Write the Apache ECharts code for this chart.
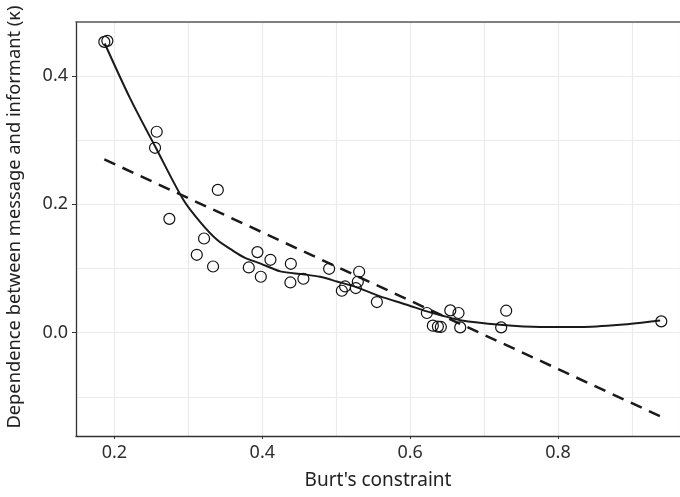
<!DOCTYPE html>
<html>
<head>
<meta charset="utf-8">
<script src="https://cdn.jsdelivr.net/npm/echarts@6/dist/echarts.min.js"></script>
<style>
html,body{margin:0;padding:0;background:#fff;}
#chart{width:680px;height:497px;}
</style>
</head>
<body>
<div id="chart"></div>
<script>
// Observed points (Burt's constraint vs. dependence kappa)
var ptX = [0.1863, 0.1904, 0.2572, 0.2549, 0.3398, 0.2743, 0.3212, 0.3114, 0.3334, 0.3934,
           0.3817, 0.4110, 0.3980, 0.4386, 0.4380, 0.4556, 0.4904, 0.5076, 0.5120, 0.5265,
           0.5292, 0.5310, 0.5550, 0.6226, 0.6307, 0.6375, 0.6415, 0.6543, 0.6654, 0.6677,
           0.7299, 0.7231, 0.9397];
var ptY = [0.4530, 0.4546, 0.3130, 0.2880, 0.2224, 0.1773, 0.1467, 0.1213, 0.1031, 0.1255,
           0.1016, 0.1135, 0.0871, 0.1073, 0.0782, 0.0840, 0.0995, 0.0653, 0.0720, 0.0695,
           0.0793, 0.0949, 0.0477, 0.0306, 0.0109, 0.0095, 0.0089, 0.0347, 0.0306, 0.0082,
           0.0342, 0.0082, 0.0176];

// Smooth (loess) fit
var loessX = [0.1869, 0.2212, 0.2560, 0.2932, 0.3158, 0.3388, 0.3605, 0.3767, 0.3970, 0.4244,
              0.4556, 0.4782, 0.5008, 0.5279, 0.5594, 0.5955, 0.6226, 0.6406, 0.6676, 0.7217,
              0.7758, 0.8299, 0.8841, 0.9382];
var loessY = [0.4505, 0.3650, 0.2880, 0.2070, 0.1726, 0.1446, 0.1275, 0.1166, 0.1080, 0.0955,
              0.0910, 0.0870, 0.0798, 0.0705, 0.0565, 0.0435, 0.0331, 0.0275, 0.0195, 0.0124,
              0.0089, 0.0089, 0.0124, 0.0191];

// Linear fit endpoints
var lmX = [0.1863, 0.9397];
var lmY = [0.2700, -0.1310];

// Axis ticks
var xTicks = [0.2, 0.4, 0.6, 0.8];
var yTicks = [0.0, 0.2, 0.4];
var xRange = [0.148, 0.965];
var yRange = [-0.161, 0.484];

var xTitle = "Burt's constraint";
var yTitle = "Dependence between message and informant (\u03ba)";

function zip(a, b) { return a.map(function (v, i) { return [v, b[i]]; }); }

var FONT = '"Noto Sans", "DejaVu Sans", sans-serif';
var chart = echarts.init(document.getElementById('chart'), null, {renderer: 'canvas'});

var option = {
  animation: false,
  backgroundColor: '#ffffff',
  grid: {left: 76, right: 0, top: 22, bottom: 61, containLabel: false, outerBoundsMode: 'none'},
  graphic: [
    {
      type: 'text', x: 15, y: 217, rotation: Math.PI / 2, silent: true,
      style: {text: yTitle, fill: '#222222', font: '18.3px ' + FONT,
              align: 'center', verticalAlign: 'middle'}
    }
  ],
  xAxis: [
    {
      type: 'value', min: xRange[0], max: xRange[1], position: 'bottom',
      axisLine: {show: true, onZero: false, lineStyle: {color: '#333333', width: 1.3}},
      axisTick: {show: true, length: 3, customValues: xTicks, lineStyle: {color: '#333333', width: 1}},
      axisLabel: {customValues: xTicks, color: '#2e2e2e', fontSize: 18, fontFamily: FONT, margin: 8,
                  formatter: function (v) { return v.toFixed(1); }},
      splitLine: {show: false},
      name: xTitle, nameLocation: 'middle', nameGap: 35,
      nameTextStyle: {color: '#222222', fontSize: 19, fontFamily: FONT}
    },
    {
      type: 'value', min: xRange[0], max: xRange[1], splitNumber: 8, position: 'top',
      axisLine: {show: true, onZero: false, lineStyle: {color: '#5a5a5a', width: 1.5}},
      axisTick: {show: false}, axisLabel: {show: false},
      splitLine: {show: true, lineStyle: {color: '#ebebeb', width: 1.2}}
    }
  ],
  yAxis: [
    {
      type: 'value', min: yRange[0], max: yRange[1], position: 'left',
      axisLine: {show: true, onZero: false, lineStyle: {color: '#333333', width: 1.3}},
      axisTick: {show: true, length: 4, customValues: yTicks, lineStyle: {color: '#333333', width: 1}},
      axisLabel: {customValues: yTicks, color: '#2e2e2e', fontSize: 18, fontFamily: FONT, margin: 8,
                  formatter: function (v) { return v.toFixed(1); }},
      splitLine: {show: false}
    },
    {
      type: 'value', min: yRange[0], max: yRange[1], splitNumber: 6, position: 'right',
      axisLine: {show: false}, axisTick: {show: false}, axisLabel: {show: false},
      splitLine: {show: true, lineStyle: {color: '#ebebeb', width: 1.2}}
    }
  ],
  series: [
    {
      type: 'line', xAxisIndex: 0, yAxisIndex: 0, data: zip(lmX, lmY),
      showSymbol: false, symbol: 'none', z: 3,
      lineStyle: {color: '#1a1a1a', width: 2.5, type: [12, 8]}
    },
    {
      type: 'line', xAxisIndex: 0, yAxisIndex: 0, data: zip(loessX, loessY),
      showSymbol: false, symbol: 'none', smooth: 0.3, z: 4,
      lineStyle: {color: '#1a1a1a', width: 2}
    },
    {
      type: 'scatter', xAxisIndex: 0, yAxisIndex: 0, data: zip(ptX, ptY),
      symbol: 'circle', symbolSize: 11, z: 5,
      itemStyle: {color: 'rgba(0,0,0,0)', borderColor: '#111111', borderWidth: 1.2, opacity: 1}
    }
  ]
};
chart.setOption(option);
</script>
</body>
</html>
